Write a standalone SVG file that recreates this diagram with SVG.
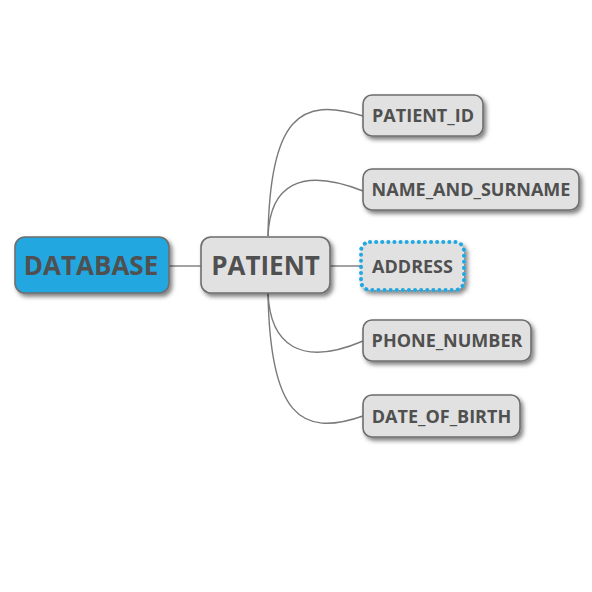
<svg xmlns="http://www.w3.org/2000/svg" width="592" height="592" viewBox="0 0 592 592">
<defs>
<filter id="sh" x="-20%" y="-30%" width="150%" height="170%">
<feDropShadow dx="2.5" dy="3" stdDeviation="2" flood-color="#000" flood-opacity="0.5"/>
</filter>
<style>
.n{fill:#e1e1e1;stroke:#6e6e6e;stroke-width:1.6;filter:url(#sh)}
.root{fill:#22a7e0;stroke:#6e6e6e;stroke-width:1.6;filter:url(#sh)}
.sel{fill:#e1e1e1;stroke:#22a7e0;stroke-width:4;stroke-dasharray:0.1 6;stroke-linecap:round;filter:url(#sh)}
.t{font-family:"Open Sans","Noto Sans","DejaVu Sans",sans-serif;font-weight:bold;fill:#505050;text-anchor:middle;dominant-baseline:central}
.big{font-size:26px}
.sm{font-size:18px}
.c{fill:none;stroke:#7a7a7a;stroke-width:1.4}
</style>
</defs>
<rect width="592" height="592" fill="#fff"/>
<g id="connectors">
<line class="c" x1="169" y1="266" x2="201" y2="266"/>
<path class="c" d="M268,236 C270,118 300,96 363,116"/>
<path class="c" d="M268,236 C270,186 300,166 363,191"/>
<line class="c" x1="330" y1="266" x2="361" y2="266"/>
<path class="c" d="M268,293 C270,344 300,368 363,341"/>
<path class="c" d="M268,293 C270,414 300,438 363,416"/>
</g>
<g id="database">
<rect class="root" x="15" y="237" width="154" height="56" rx="10"/>
<text class="t big" x="91" y="265">DATABASE</text>
</g>
<g id="patient">
<rect class="n" x="201" y="237" width="129" height="56" rx="10"/>
<text class="t big" x="265.5" y="265">PATIENT</text>
</g>
<g id="patient_id">
<rect class="n" x="363" y="95" width="120" height="41" rx="9"/>
<text class="t sm" x="423" y="115">PATIENT_ID</text>
</g>
<g id="name_and_surname">
<rect class="n" x="363" y="169" width="216" height="41" rx="9"/>
<text class="t sm" x="471" y="189">NAME_AND_SURNAME</text>
</g>
<g id="address">
<rect class="sel" x="361" y="242" width="103" height="48" rx="9"/>
<text class="t sm" x="412.5" y="266">ADDRESS</text>
</g>
<g id="phone_number">
<rect class="n" x="363" y="320" width="168" height="41" rx="9"/>
<text class="t sm" x="447" y="340">PHONE_NUMBER</text>
</g>
<g id="date_of_birth">
<rect class="n" x="363" y="395" width="157" height="42" rx="9"/>
<text class="t sm" x="441.5" y="415.5">DATE_OF_BIRTH</text>
</g>
</svg>
